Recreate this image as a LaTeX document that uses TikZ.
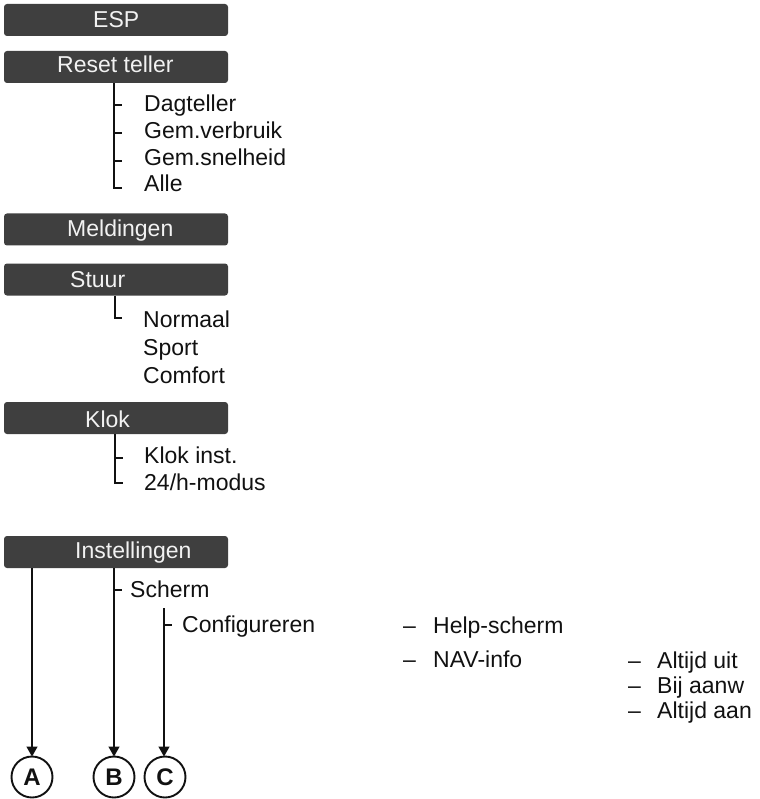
\documentclass[tikz,border=0pt]{standalone}
\usepackage{fontspec}
\setmainfont{Liberation Sans}
\usetikzlibrary{arrows.meta}
\definecolor{boxgray}{HTML}{3F3F3F}
\definecolor{boxtext}{HTML}{F2F2F2}
\definecolor{ink}{HTML}{111111}
\begin{document}
\begin{tikzpicture}[x=1pt,y=-1pt,
  menubox/.style={rectangle,rounded corners=3pt,fill=boxgray,minimum width=224pt,minimum height=32pt,inner sep=0pt},
  boxlabel/.style={anchor=base west,inner sep=0pt,text=boxtext,font=\fontsize{23}{27}\selectfont},
  item/.style={anchor=base west,inner sep=0pt,text=ink,font=\fontsize{23}{27}\selectfont},
  tree/.style={draw=ink,line width=1.1pt},
  arr/.style={draw=ink,line width=1.3pt,-{Triangle[width=11pt,length=10pt]}},
  letter/.style={circle,draw=ink,line width=1.9pt,minimum size=41pt,inner sep=0pt,font=\fontsize{24}{28}\selectfont\bfseries,text=ink}]
\useasboundingbox (0,0) rectangle (759,799);
% menu boxes
\node[menubox] (esp) at (116,20) {};
\node[boxlabel] (tesp) at (93,28) {ESP};
\node[menubox] (reset) at (116,67) {};
\node[boxlabel] (treset) at (57,73) {Reset teller};
\node[menubox] (meld) at (116,229.5) {};
\node[boxlabel] (tmeld) at (67,237) {Meldingen};
\node[menubox] (stuur) at (116,279.5) {};
\node[boxlabel] (tstuur) at (70,287) {Stuur};
\node[menubox] (klok) at (116,418) {};
\node[boxlabel] (tklok) at (85,427) {Klok};
\node[menubox] (inst) at (116,552) {};
\node[boxlabel] (tinst) at (75,558) {Instellingen};
% Reset teller items
\node[item] (dag) at (144,112) {Dagteller};
\node[item] (gemv) at (144,139) {Gem.verbruik};
\node[item] (gems) at (144,166) {Gem.snelheid};
\node[item] (alle) at (144,192) {Alle};
\coordinate (r0) at (reset.south -| 114,0);
\coordinate (r4) at (114,188);
\draw[tree] (r0) -- (r4) -- (122,188);
\draw[tree] (114,105) -- (122,105);
\draw[tree] (114,133) -- (122,133);
\draw[tree] (114,161) -- (122,161);
% Stuur items
\node[item] (norm) at (143,327) {Normaal};
\node[item] (sport) at (143,355) {Sport};
\node[item] (comf) at (143,383) {Comfort};
\coordinate (s0) at (stuur.south -| 115,0);
\draw[tree] (s0) -- (115,318) -- (122,318);
% Klok items
\node[item] (kinst) at (144,463) {Klok inst.};
\node[item] (k24) at (144,490) {24/h-modus};
\coordinate (k0) at (klok.south -| 115,0);
\draw[tree] (k0) -- (115,483) -- (123,483);
\draw[tree] (115,458) -- (123,458);
% Instellingen
\node[item] (scherm) at (130,597) {Scherm};
\node[item] (conf) at (182,632) {Configureren};
\node[item] (d1) at (403,633) {–};
\node[item] (help) at (433,633) {Help-scherm};
\node[item] (d2) at (403,667) {–};
\node[item] (nav) at (433,667) {NAV-info};
\node[item] (d3) at (628,668) {–};
\node[item] (uit) at (657,668) {Altijd uit};
\node[item] (d4) at (628,693) {–};
\node[item] (bij) at (657,693) {Bij aanw};
\node[item] (d5) at (628,718) {–};
\node[item] (aan) at (657,718) {Altijd aan};
\draw[tree] (114,590) -- (122,590);
\draw[tree] (164,625) -- (172,625);
% circles
\node[letter] (A) at (32,777) {A};
\node[letter] (B) at (114,777) {B};
\node[letter] (C) at (165,777) {C};
\draw[arr] (inst.south -| A.north) -- ([yshift=-1pt]A.north);
\draw[arr] (inst.south -| B.north) -- ([yshift=-1pt]B.north);
\coordinate (c0) at (164,608);
\draw[arr] (c0) -- ([yshift=-1pt]C.north -| c0);
\end{tikzpicture}
\end{document}
